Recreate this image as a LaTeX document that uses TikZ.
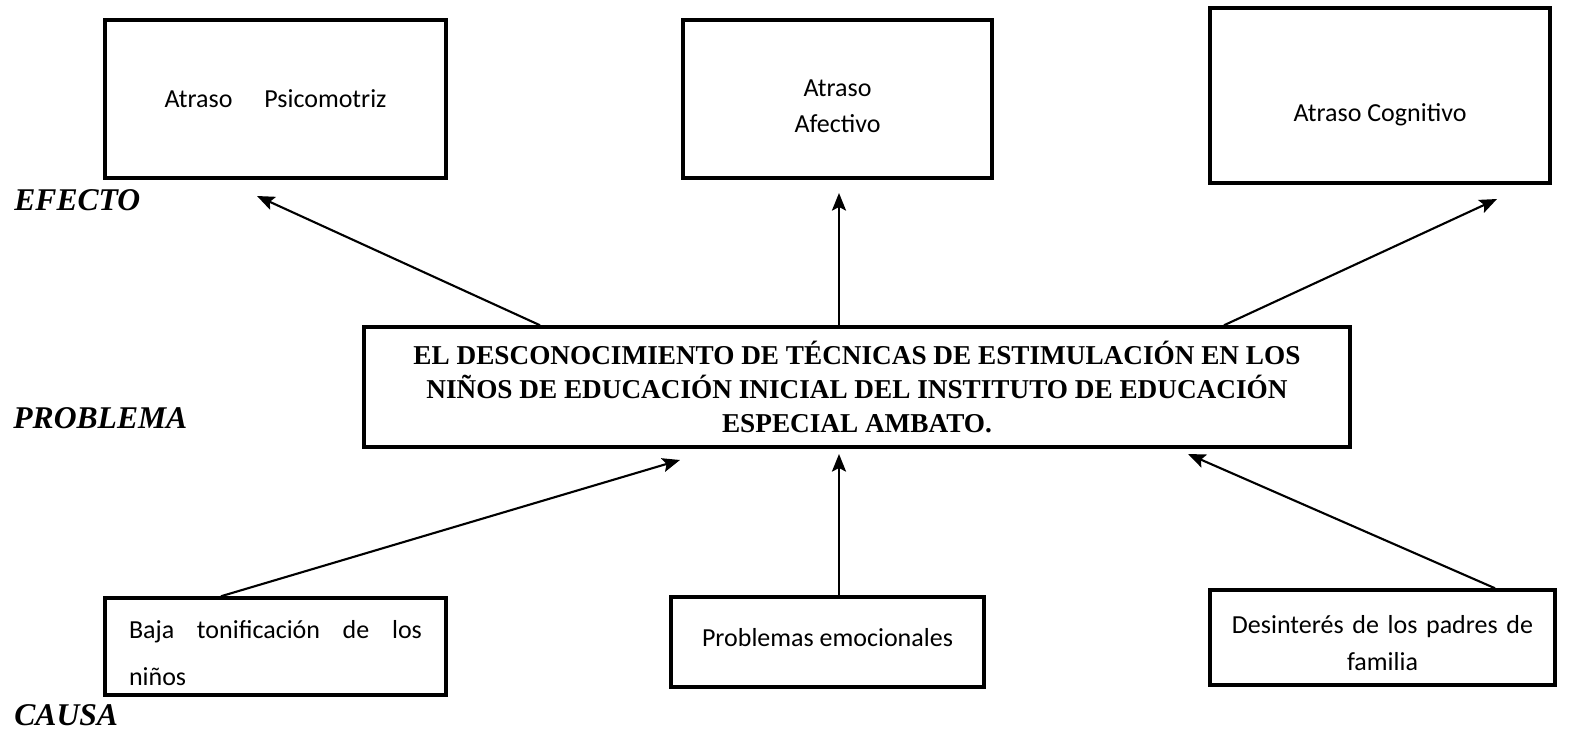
\documentclass[tikz,border=0pt]{standalone}
\usepackage{fontspec}
\setmainfont{Carlito}
\newfontfamily\timesfont{Liberation Serif}
\usetikzlibrary{arrows.meta}

\begin{document}
\begin{tikzpicture}[x=0.02cm, y=-0.02cm,
    caja/.style={draw, line width=2pt, align=center, inner sep=0pt,
      font=\fontsize{14.8}{21}\selectfont},
    flecha/.style={-{Stealth[length=10pt,width=8pt,inset=2pt]}, line width=1.2pt},
    rotulo/.style={anchor=base west, inner sep=0pt,
      font=\timesfont\bfseries\itshape\fontsize{18}{20}\selectfont}]
  \useasboundingbox (0,0) rectangle (1587,730);

  % efectos
  \node[caja, minimum width=6.82cm, minimum height=3.16cm] (psico) at (275.5,99) {Atraso\quad{} Psicomotriz};
  \node[caja, minimum width=6.18cm, minimum height=3.16cm, text width=5cm,
    text height=0.4cm, text depth=0.52cm] (afect) at (837.5,99) {Atraso\\Afectivo};
  \node[caja, minimum width=6.8cm, minimum height=3.5cm, text height=1.2cm, text depth=0.14cm] (cogn) at (1380,95.5) {Atraso Cognitivo};

  % problema
  \node[caja, minimum width=19.72cm, minimum height=2.4cm,
    font=\timesfont\bfseries\fontsize{15.5}{19.6}\selectfont] (prob) at (857,387)
    {EL DESCONOCIMIENTO DE TÉCNICAS DE ESTIMULACIÓN EN LOS\\NIÑOS DE EDUCACIÓN INICIAL DEL INSTITUTO DE EDUCACIÓN\\ESPECIAL AMBATO.};

  % causas
  \node[caja, minimum width=6.82cm, minimum height=1.94cm, text width=5.86cm, align=left,
    text height=0.4cm, text depth=0.74cm, font=\fontsize{14.8}{27}\selectfont] (tonif) at (275.5,646.5)
    {Baja\hfill tonificación\hfill de\hfill los\\niños};
  \node[caja, minimum width=6.26cm, minimum height=1.8cm, text height=0.36cm, text depth=0.2cm] (emoc) at (827.5,642) {Problemas emocionales};
  \node[caja, minimum width=6.9cm, minimum height=1.9cm, text width=6.2cm,
    text height=0.4cm, text depth=0.56cm] (padres) at (1382.5,637.5) {Desinterés de los padres de\\familia};

  \node[rotulo] (efecto) at (14,210) {EFECTO};
  \node[rotulo] (problema) at (13,428) {PROBLEMA};
  \node[rotulo] (causa) at (14,725) {CAUSA};

  \coordinate (e1) at (257,196);
  \coordinate (e2) at (839,193);
  \coordinate (e3) at (1497,199);
  \coordinate (c1) at (680,460);
  \coordinate (c2) at (839,454);
  \coordinate (c3) at (1188,454);

  \draw[flecha] (540,0 |- prob.north) -- (e1);
  \draw[flecha] (839,0 |- prob.north) -- (e2);
  \draw[flecha] (1224,0 |- prob.north) -- (e3);
  \draw[flecha] (221,0 |- tonif.north) -- (c1);
  \draw[flecha] (839,0 |- emoc.north) -- (c2);
  \draw[flecha] (1495,0 |- padres.north) -- (c3);
\end{tikzpicture}
\end{document}
